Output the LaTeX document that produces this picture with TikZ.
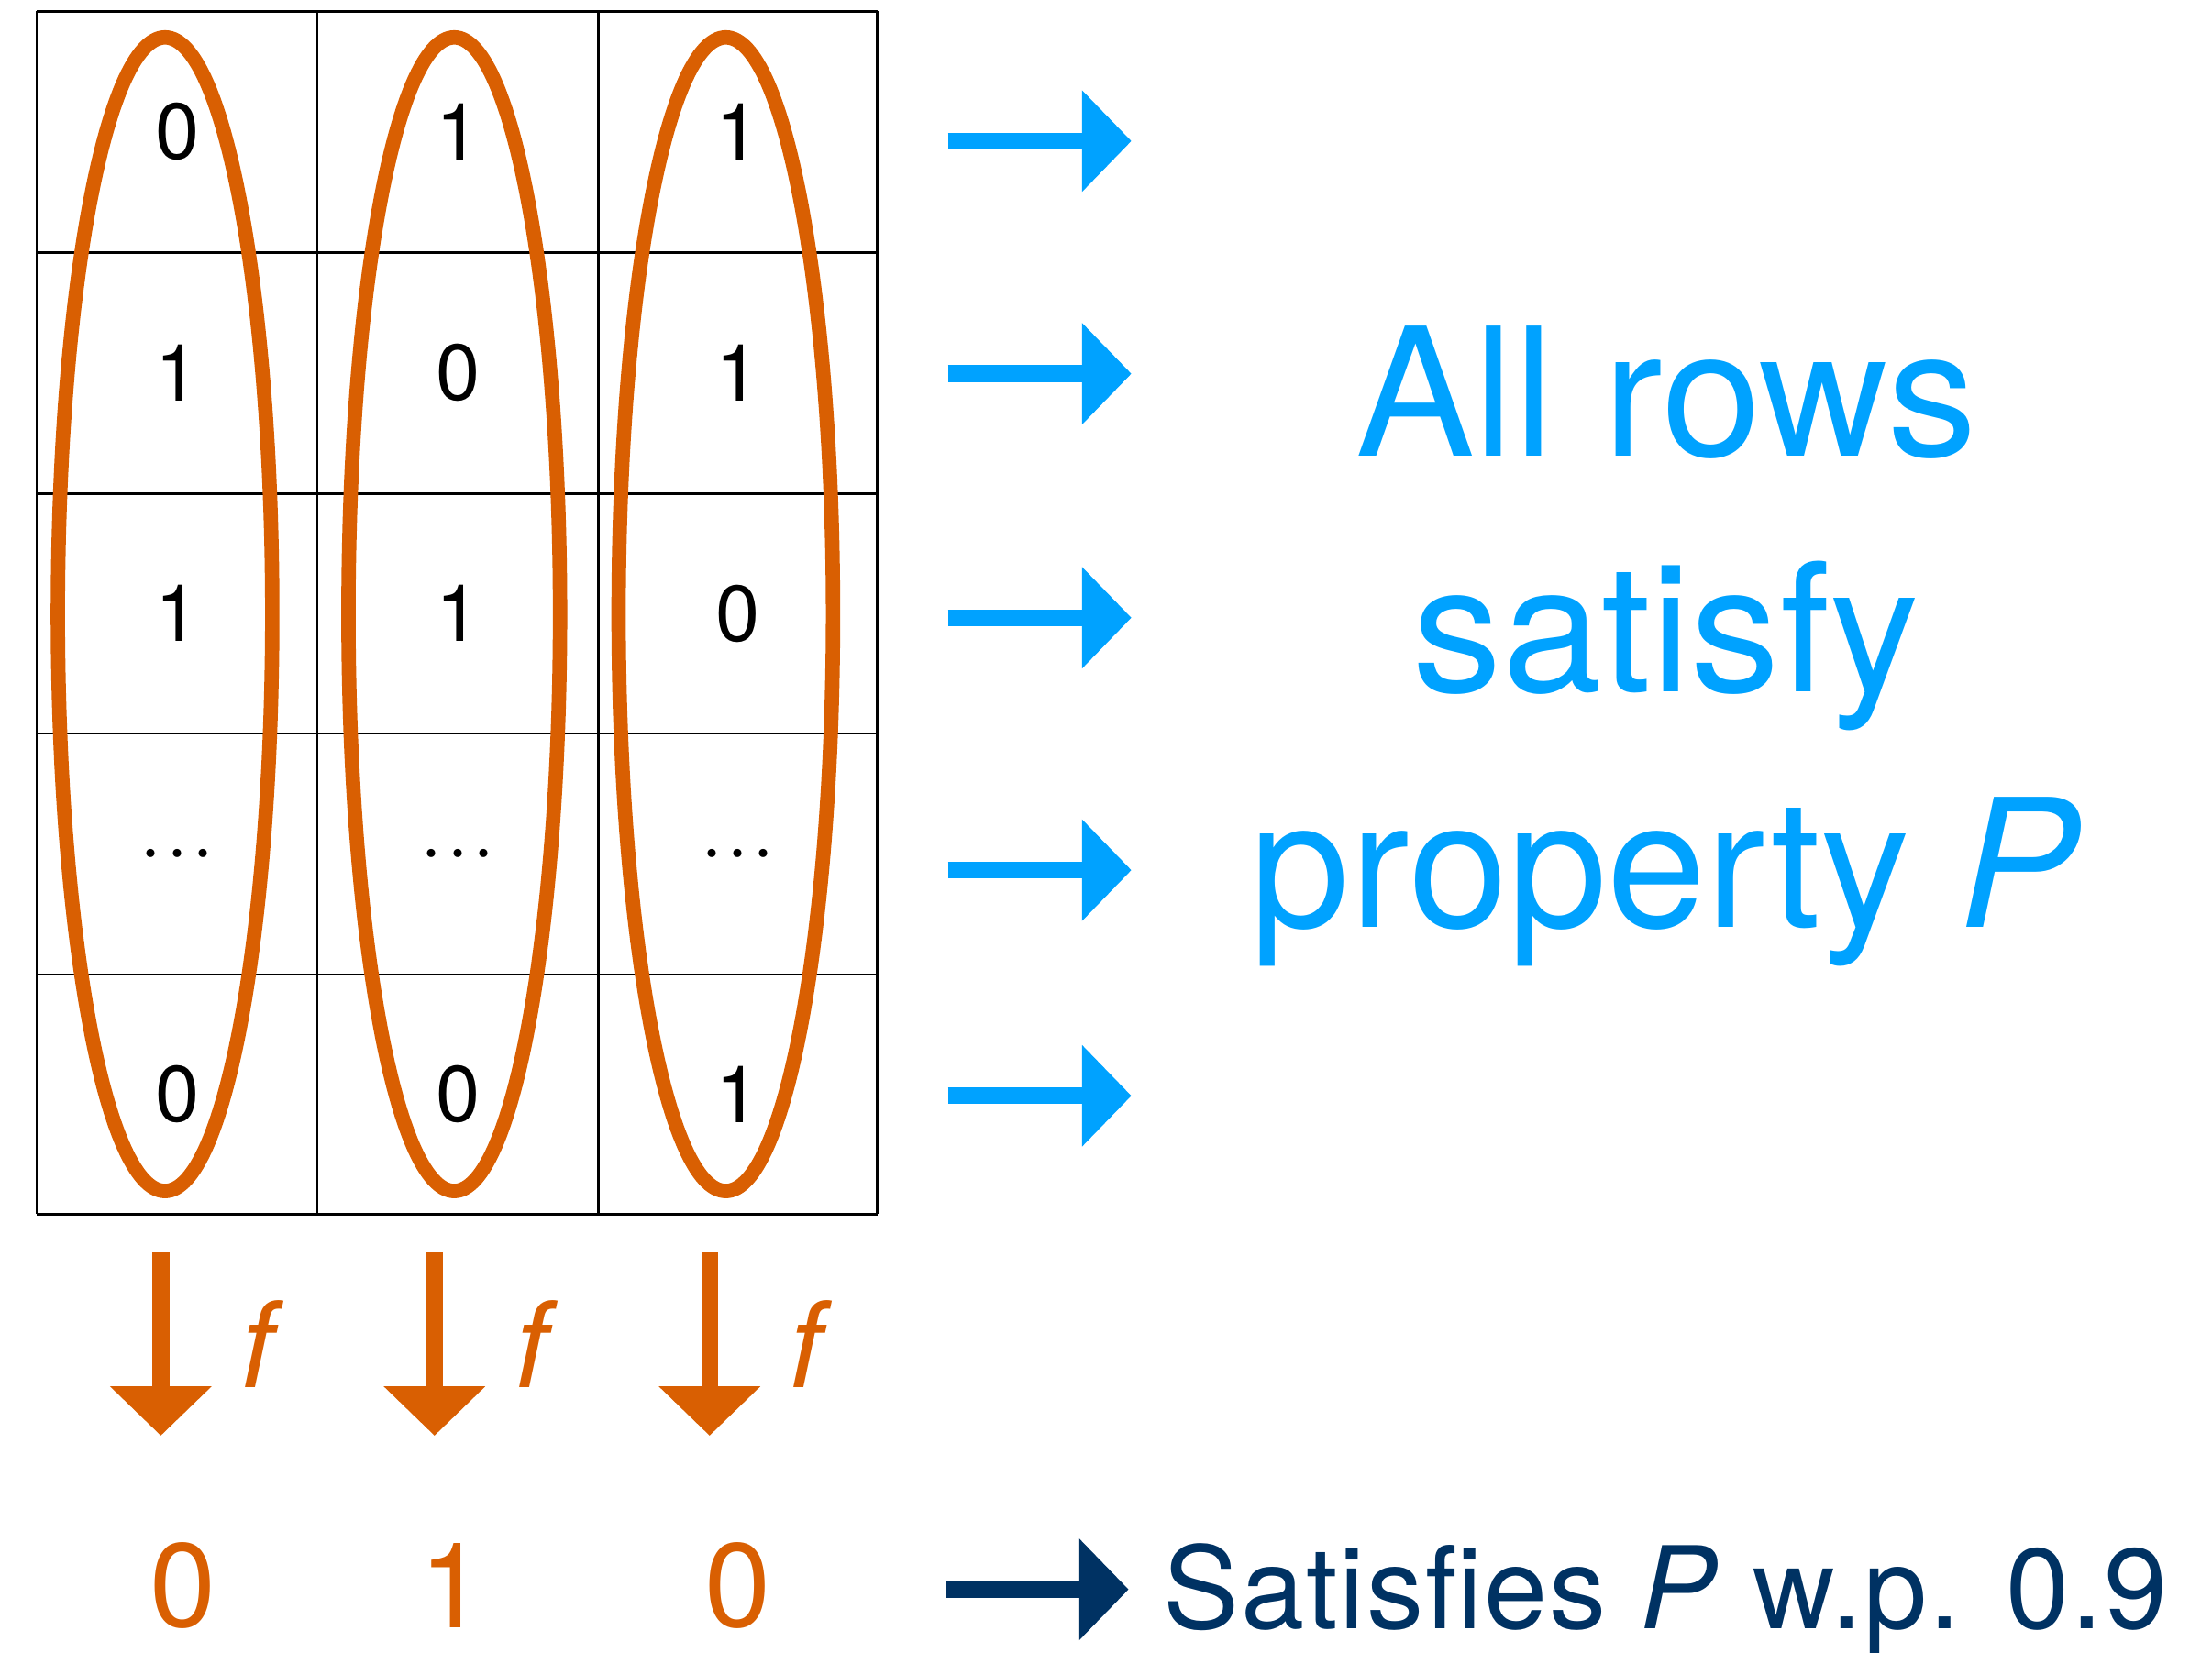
\documentclass[tikz,border=0pt]{standalone}
\usepackage{fontspec}
\setmainfont{TeX Gyre Heros}
\usepackage{tikz}
\usetikzlibrary{arrows.meta}
\definecolor{colorange}{HTML}{D95F02}
\definecolor{rowblue}{HTML}{00A2FF}
\definecolor{navy}{HTML}{003263}
\tikzset{
  fatarr/.style   = {-{Triangle[length=3.5mm,width=7mm]},line width=1.2mm},
  gridline/.style = {black,line width=0.5pt},
  colring/.style  = {colorange,line width=2.9pt},
  cellval/.style  = {inner sep=0pt,font=\fontsize{16}{18}\selectfont},
  outval/.style   = {inner sep=0pt,colorange,font=\fontsize{24}{28}\selectfont}
}

\begin{document}
\begin{tikzpicture}[x=1mm,y=-1mm]
  \useasboundingbox (0,0) rectangle (156.8,117.2);
  % the table
  \foreach \gx in {2.6,22.5,42.4,62.2}
    \draw[gridline] (\gx,0.8) -- (\gx,86.1);
  \foreach \gy in {0.8,17.9,35.0,52.0,69.1,86.1}
    \draw[gridline] (2.6,\gy) -- (62.2,\gy);
  \foreach \r/\ry/\a/\b/\c in {1/9.35/0/1/1, 2/26.45/1/0/1, 3/43.5/1/1/0, 5/77.6/0/0/1}{
    \node[cellval] (c\r1) at (12.55,\ry) {\a};
    \node[cellval] (c\r2) at (32.45,\ry) {\b};
    \node[cellval] (c\r3) at (52.3,\ry)  {\c};
  }
  \foreach \k/\kx in {1/12.55,2/32.45,3/52.3}
    \node[cellval] (c4\k) at (\kx,61.1)
      {\textperiodcentered\kern0.8pt\textperiodcentered\kern0.8pt\textperiodcentered};
  % columns
  \draw[colring] (11.7,43.55)  ellipse [x radius=7.6, y radius=40.9];
  \draw[colring] (32.2,43.55)  ellipse [x radius=7.5, y radius=40.9];
  \draw[colring] (51.45,43.55) ellipse [x radius=7.6, y radius=40.9];
  % rows
  \foreach \i/\ay in {1/10.0,2/26.5,3/43.8,4/61.7,5/77.7}{
    \coordinate (r\i s) at (67.2,\ay);
    \coordinate (r\i e) at (80.2,\ay);
    \draw[fatarr,rowblue] (r\i s) -- (r\i e);
  }
  \node[inner sep=0pt,rowblue,align=center,font=\fontsize{36}{47.5}\selectfont]
    (allrows) at (118.1,45.8) {All rows\\satisfy\\property \textit{P}};
  % f on each column
  \foreach \k/\kx in {1/11.4,2/30.8,3/50.3}{
    \coordinate (d\k s) at (\kx,88.8);
    \coordinate (d\k e) at (\kx,101.8);
    \draw[fatarr,colorange] (d\k s) -- (d\k e)
      node[midway,xshift=7.2mm,colorange,font=\fontsize{24}{28}\selectfont] {\textit{f}};
  }
  \node[outval] (out1) at (13.0,112.4) {0};
  \node[outval] (out2) at (32.1,112.4) {1};
  \node[outval] (out3) at (52.3,112.4) {0};
  \coordinate (sats) at (67.0,112.7);
  \coordinate (sate) at (80.0,112.7);
  \draw[fatarr,navy] (sats) -- (sate);
  \node[inner sep=0pt,anchor=base west,navy,
        font=\fontsize{23}{27}\selectfont\addfontfeatures{LetterSpace=1.5}]
    (satis) at (82.4,115.5) {Satisfies \textit{P} w.p. 0.9};
\end{tikzpicture}
\end{document}
